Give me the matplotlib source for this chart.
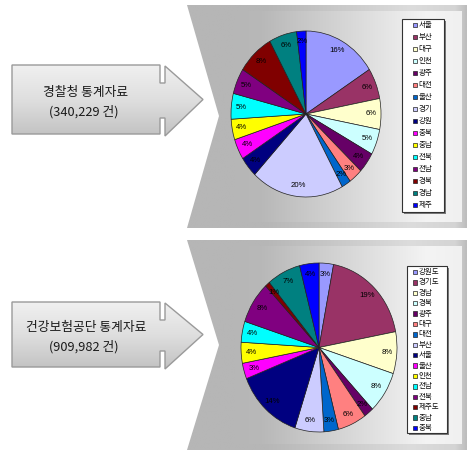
import numpy as np
import matplotlib
matplotlib.use('Agg')
import matplotlib.pyplot as plt
from matplotlib.patches import Polygon, Rectangle
from matplotlib.colors import LinearSegmentedColormap

plt.rcParams['font.family'] = ['Noto Sans CJK KR', 'DejaVu Sans']

# ---------------- data ----------------
palette = ['#9999FF', '#993366', '#FFFFCC', '#CCFFFF', '#660066', '#FF8080', '#0066CC', '#CCCCFF',
           '#000080', '#FF00FF', '#FFFF00', '#00FFFF', '#800080', '#800000', '#008080', '#0000FF']

police_regions = ['서울', '부산', '대구', '인천', '광주', '대전', '울산', '경기',
                  '강원', '충북', '충남', '전북', '전남', '경북', '경남', '제주']
police_pct = [16, 6, 6, 5, 4, 3, 2, 20, 4, 4, 4, 5, 5, 8, 6, 2]
police_title = '경찰청 통계자료'
police_count = '(340,229 건)'

nhis_regions = ['강원도', '경기도', '경남', '경북', '광주', '대구', '대전', '부산',
                '서울', '울산', '인천', '전남', '전북', '제주도', '충남', '충북']
nhis_pct = [3, 19, 8, 8, 2, 6, 3, 6, 14, 3, 4, 4, 8, 1, 7, 4]
nhis_title = '건강보험공단 통계자료'
nhis_count = '(909,982 건)'

# ---------------- figure ----------------
W, H = 467, 451
fig = plt.figure(figsize=(W / 100, H / 100), dpi=100)
fig.patch.set_facecolor('white')
bg = fig.add_axes([0, 0, 1, 1])
bg.axis('off')


def reset_bg():
    bg.set_xlim(0, W)
    bg.set_ylim(H, 0)


def grad_fill(pts, x0, x1, y0, y1, stops, horizontal=True, z=1, ec='none', lw=0):
    patch = Polygon(pts, closed=True, facecolor='none', edgecolor=ec, linewidth=lw, zorder=z + 0.1)
    bg.add_patch(patch)
    cmap = LinearSegmentedColormap.from_list('g', stops)
    g = np.linspace(0, 1, 256)
    arr = g[None, :] if horizontal else g[:, None]
    im = bg.imshow(arr, cmap=cmap, vmin=0, vmax=1, extent=(x0, x1, y1, y0), origin='upper',
                   aspect='auto', zorder=z, interpolation='bilinear')
    im.set_clip_path(patch)
    reset_bg()


def panel(top, bot, notch_y):
    outer = [(187, top), (W, top), (W, bot), (187, bot), (219, notch_y)]
    grad_fill(outer, 187, W, top, bot,
              [(0, '#b6b6b6'), (0.28, '#b6b6b6'), (0.8, '#dcdcdc'), (0.96, '#d4d4d4'), (1, '#bdbdbd')], z=1)
    inner = [(235, top + 6), (462, top + 6), (462, bot - 6), (235, bot - 6)]
    grad_fill(inner, 235, 462, top + 6, bot - 6,
              [(0, '#b6b6b6'), (0.12, '#b8b8b8'), (0.85, '#f4f4f4'), (1, '#f0f0f0')], z=1.5)


def arrow(y0, y1, title, count):
    cy = (y0 + y1) / 2
    pts = [(12, y0), (160, y0), (160, y0 + 18), (165, y0 + 18), (165, y0 + 1), (203, cy),
           (165, y1 + 2), (165, y1 - 16), (160, y1 - 16), (160, y1), (12, y1)]
    grad_fill(pts, 12, 203, y0, y1 + 2,
              [(0, '#f0f0f0'), (0.5, '#dedede'), (1, '#c2c2c2')], horizontal=False, z=2,
              ec='#9a9a9a', lw=1.0)
    bg.text(86, cy - 7, title, fontsize=9.2, ha='center', va='center', color='#1a1a1a', zorder=3)
    bg.text(84, cy + 12, count, fontsize=9.2, ha='center', va='center', color='#1a1a1a', zorder=3)


def draw_pie(cx, cy, rx, ry, values):
    pad = 1.03
    ax = fig.add_axes([(cx - rx * pad) / W, (H - cy - ry * pad) / H, 2 * rx * pad / W, 2 * ry * pad / H])
    ax.pie(values, colors=palette, startangle=90, counterclock=False,
           autopct=lambda p: f'{p:.0f}%', pctdistance=0.87,
           wedgeprops=dict(edgecolor='#222222', linewidth=0.5),
           textprops=dict(fontsize=5.6, family=['Liberation Sans', 'DejaVu Sans'], color='black'))
    ax.set_aspect('auto')
    ax.set_xlim(-pad, pad)
    ax.set_ylim(-pad, pad)
    ax.axis('off')


def draw_legend(x0, y0, x1, y1, labels, first_y, step, mx):
    bg.add_patch(Rectangle((x0 + 1.5, y0 + 1.5), x1 - x0, y1 - y0, facecolor='#7a7a7a',
                           edgecolor='none', zorder=5))
    bg.add_patch(Rectangle((x0, y0), x1 - x0, y1 - y0, facecolor='white',
                           edgecolor='#333333', linewidth=0.8, zorder=6))
    for i, (lab, col) in enumerate(zip(labels, palette)):
        y = first_y + i * step
        bg.add_patch(Rectangle((x0 + mx, y - 2.2), 4.4, 4.4, facecolor=col, edgecolor='#222222',
                               linewidth=0.5, zorder=7))
        bg.text(x0 + mx + 5.8, y, lab, fontsize=5.4, ha='left', va='center', color='#111111', zorder=7)


reset_bg()
panel(5, 228, 116)
panel(240, 450, 345)
arrow(65, 134, police_title, police_count)
arrow(302, 367, nhis_title, nhis_count)

draw_pie(306, 114, 75, 83, police_pct)
draw_pie(319, 347.5, 78, 84.5, nhis_pct)

draw_legend(402, 19, 444, 212, police_regions, 25, 12, 11)
draw_legend(407, 266, 447, 433, nhis_regions, 272, 10.4, 6)

fig.savefig('out.png', dpi=100)
